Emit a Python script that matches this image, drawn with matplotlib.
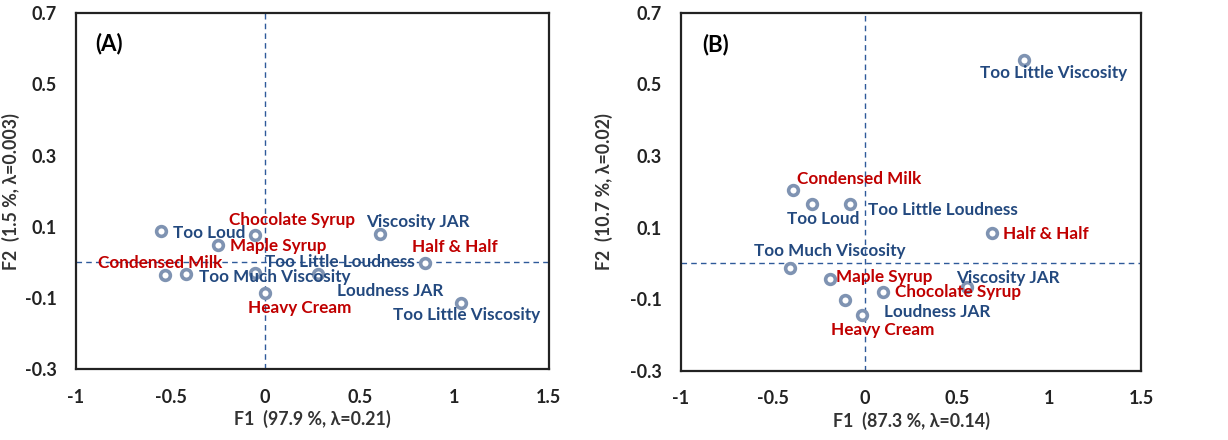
import numpy as np
import matplotlib
matplotlib.use('Agg')
import matplotlib.pyplot as plt

plt.rcParams['font.family'] = ['Lato', 'DejaVu Sans']

# Panel A: correspondence analysis coordinates
names_a = ['Too Loud', 'Chocolate Syrup', 'Maple Syrup', 'Viscosity JAR', 'Half & Half',
           'Condensed Milk', 'Too Much Viscosity', 'Too Little Loudness', 'Loudness JAR',
           'Heavy Cream', 'Too Little Viscosity']
f1_a = [-0.552, -0.054, -0.248, 0.607, 0.845, -0.53, -0.42, -0.054, 0.277, -0.001, 1.035]
f2_a = [0.088, 0.076, 0.048, 0.081, -0.003, -0.036, -0.034, -0.029, -0.034, -0.085, -0.113]

# Panel B
names_b = ['Too Little Viscosity', 'Condensed Milk', 'Too Loud', 'Too Little Loudness', 'Half & Half',
           'Too Much Viscosity', 'Maple Syrup', 'Viscosity JAR', 'Chocolate Syrup', 'Loudness JAR',
           'Heavy Cream']
f1_b = [0.865, -0.39, -0.291, -0.084, 0.689, -0.408, -0.189, 0.553, 0.095, -0.109, -0.014]
f2_b = [0.569, 0.205, 0.166, 0.166, 0.085, -0.013, -0.043, -0.066, -0.081, -0.101, -0.144]

products = ['Chocolate Syrup', 'Maple Syrup', 'Half & Half', 'Condensed Milk', 'Heavy Cream']

xlabels = ['F1  (97.9 %, λ=0.21)', 'F1  (87.3 %, λ=0.14)']
ylabels = ['F2  (1.5 %, λ=0.003)', 'F2  (10.7 %, λ=0.02)']
panels = ['(A)', '(B)']

# label offsets in pixels (dx, dy, ha)
offs_a = {'Too Loud': (12, -2, 'left'), 'Chocolate Syrup': (37, 15, 'center'),
          'Maple Syrup': (12, -1, 'left'), 'Viscosity JAR': (38, 12, 'center'),
          'Half & Half': (30, 16, 'center'), 'Condensed Milk': (-5, 12, 'center'),
          'Too Much Viscosity': (13, -3, 'left'), 'Too Little Loudness': (10, 11, 'left'),
          'Loudness JAR': (19, -17, 'left'), 'Heavy Cream': (35, -15, 'center'),
          'Too Little Viscosity': (6, -12, 'center')}
offs_b = {'Too Little Viscosity': (29, -13, 'center'), 'Condensed Milk': (4, 11, 'left'),
          'Too Loud': (12, -15, 'center'), 'Too Little Loudness': (18, -6, 'left'),
          'Half & Half': (11, -1, 'left'), 'Too Much Viscosity': (40, 17, 'center'),
          'Maple Syrup': (6, 2, 'left'), 'Viscosity JAR': (41, 9, 'center'),
          'Chocolate Syrup': (12, 0, 'left'), 'Loudness JAR': (39, -12, 'left'),
          'Heavy Cream': (20, -15, 'center')}

red = '#C00000'
blue = '#23497F'
mcol = '#7F93B2'

fig = plt.figure(figsize=(12.28, 4.4), dpi=100)
ax_a = fig.add_axes([0.0619, 0.161, 0.385, 0.809])
ax_b = fig.add_axes([0.5546, 0.157, 0.3746, 0.814])

ylab_x = [-0.118, -0.148]
title_pos = [(0.04, 0.916), (0.046, 0.911)]

data = [(ax_a, names_a, f1_a, f2_a, offs_a), (ax_b, names_b, f1_b, f2_b, offs_b)]
for i, (ax, names, xs, ys, offs) in enumerate(data):
    ax.axhline(0, color='#2E5A9A', ls=(0, (4, 3)), lw=1)
    ax.axvline(0, color='#2E5A9A', ls=(0, (4, 3)), lw=1)
    ax.plot(xs, ys, 'o', ms=7, mfc='white', mec=mcol, mew=2.6, zorder=3)
    for n, x, y in zip(names, xs, ys):
        dx, dy, ha = offs[n]
        c = red if n in products else blue
        ax.annotate(n, (x, y), xytext=(dx, dy), textcoords='offset pixels',
                    ha=ha, va='center', color=c, fontsize=12.3, fontweight='bold', zorder=4)
    ax.set_xlim(-1, 1.5)
    ax.set_ylim(-0.3, 0.7)
    ax.set_xticks([-1, -0.5, 0, 0.5, 1, 1.5])
    ax.set_xticklabels(['-1', '-0.5', '0', '0.5', '1', '1.5'])
    ax.set_yticks([-0.3, -0.1, 0.1, 0.3, 0.5, 0.7])
    ax.set_yticklabels(['-0.3', '-0.1', '0.1', '0.3', '0.5', '0.7'])
    ax.tick_params(length=0, labelsize=13, pad=14)
    for lab in ax.get_xticklabels() + ax.get_yticklabels():
        lab.set_fontweight('bold')
        lab.set_color('#222222')
    for s in ax.spines.values():
        s.set_linewidth(1.6)
        s.set_color('#222222')
    ax.set_xlabel(xlabels[i], fontsize=12.8, fontweight='bold', color='#333333')
    ax.xaxis.set_label_coords(0.5, -0.115)
    ax.set_ylabel(ylabels[i], fontsize=12.8, fontweight='bold', color='#333333')
    ax.yaxis.set_label_coords(ylab_x[i], 0.5)
    ax.text(title_pos[i][0], title_pos[i][1], panels[i], transform=ax.transAxes,
            fontsize=16, fontweight='bold', va='center', ha='left')

fig.savefig('out.png', dpi=100)
